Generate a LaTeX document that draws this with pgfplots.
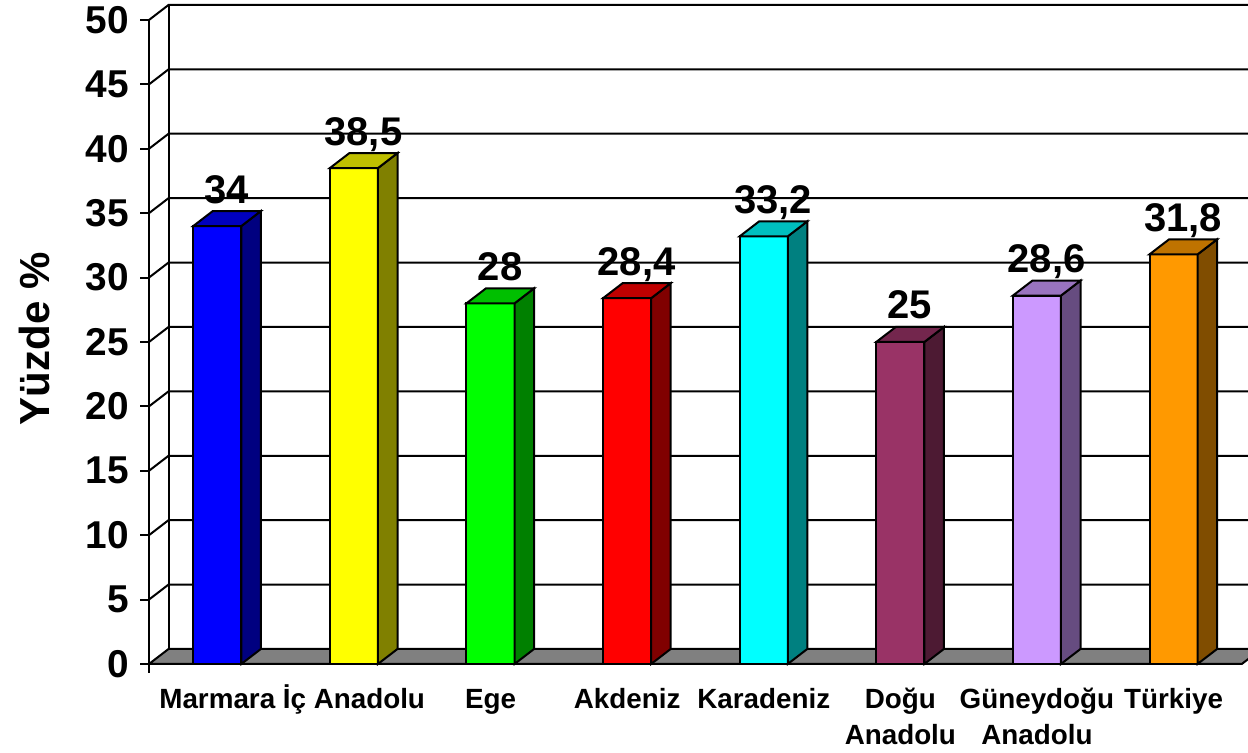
\documentclass[border=0pt]{standalone}
\usepackage{pgfplots}
\pgfplotsset{compat=1.18}
\usepackage{fontspec}
\setmainfont{Liberation Sans}
\definecolor{c1f}{HTML}{0000FF}\definecolor{c1t}{HTML}{0000BF}\definecolor{c1s}{HTML}{000080}
\definecolor{c2f}{HTML}{FFFF00}\definecolor{c2t}{HTML}{BFBF00}\definecolor{c2s}{HTML}{808000}
\definecolor{c3f}{HTML}{00FF00}\definecolor{c3t}{HTML}{00BF00}\definecolor{c3s}{HTML}{008000}
\definecolor{c4f}{HTML}{FF0000}\definecolor{c4t}{HTML}{BF0000}\definecolor{c4s}{HTML}{800000}
\definecolor{c5f}{HTML}{00FFFF}\definecolor{c5t}{HTML}{00BFBF}\definecolor{c5s}{HTML}{008080}
\definecolor{c6f}{HTML}{993366}\definecolor{c6t}{HTML}{73264D}\definecolor{c6s}{HTML}{4D1A33}
\definecolor{c7f}{HTML}{CC99FF}\definecolor{c7t}{HTML}{9973BF}\definecolor{c7s}{HTML}{664C80}
\definecolor{c8f}{HTML}{FF9900}\definecolor{c8t}{HTML}{BF7300}\definecolor{c8s}{HTML}{804D00}
\definecolor{floorgray}{HTML}{808080}
% 3D bar: #1 category position, #2 value, #3 front, #4 top, #5 side colour
\newcommand{\bartd}[5]{%
  \pgfmathsetmacro{\xa}{#1-0.176}%
  \pgfmathsetmacro{\xb}{#1+0.176}%
  \pgfmathsetmacro{\xc}{#1+0.319}%
  \pgfmathsetmacro{\xd}{#1-0.033}%
  \pgfmathsetmacro{\yt}{#2+1.165}%
  \edef\doit{%
    \noexpand\addplot[fill=#3,draw=black] coordinates {(\xa,0) (\xb,0) (\xb,#2) (\xa,#2)} -- cycle;
    \noexpand\addplot[fill=#5,draw=black] coordinates {(\xb,0) (\xc,1.165) (\xc,\yt) (\xb,#2)} -- cycle;
    \noexpand\addplot[fill=#4,draw=black] coordinates {(\xa,#2) (\xb,#2) (\xc,\yt) (\xd,\yt)} -- cycle;
  }\doit}
\begin{document}
\begin{tikzpicture}
\begin{axis}[
  x=68.3pt, y=6.44pt,
  xmin=-0.5, xmax=7.5, ymin=0, ymax=50,
  clip=false,
  axis x line*=bottom, axis y line*=left,
  axis line style={line width=1pt, black},
  ytick={0,5,...,50},
  xtick={0,...,7},
  xticklabels={{Marmara\\\mbox{}}, {İç Anadolu\\\mbox{}}, {Ege\\\mbox{}}, {Akdeniz\\\mbox{}}, {Karadeniz\\\mbox{}}, {Doğu\\Anadolu}, {Güneydoğu\\Anadolu}, {Türkiye\\\mbox{}}},
  x tick style={draw=none},
  y tick style={line width=1pt, black},
  tick align=outside,
  major tick length=4.5pt,
  /pgf/number format/assume math mode=true,
  yticklabel style={font=\fontsize{19.4}{20}\selectfont\bfseries, anchor=east, inner sep=0pt, xshift=-5.5pt},
  xticklabel style={font=\fontsize{13.9}{18}\selectfont\bfseries, align=center, anchor=base, inner sep=0pt, yshift=-36pt},
  ylabel={Yüzde \%},
  every axis y label/.style={at={(axis description cs:-0.0909,0.5047)}, rotate=90, anchor=base, font=\fontsize{21}{24}\selectfont\bfseries},
  every axis plot/.append style={line width=1pt},
]
% floor
\addplot[fill=floorgray, draw=black] coordinates {(-0.5,0) (7.5,0) (7.643,1.165) (-0.357,1.165)} -- cycle;
% left wall and back wall gridlines
\addplot[draw=black] coordinates {(-0.357,1.165) (-0.357,51.165)};
\addplot[draw=black] coordinates {(-0.5,5) (-0.357,6.165) (7.7,6.165)};
\addplot[draw=black] coordinates {(-0.5,10) (-0.357,11.165) (7.7,11.165)};
\addplot[draw=black] coordinates {(-0.5,15) (-0.357,16.165) (7.7,16.165)};
\addplot[draw=black] coordinates {(-0.5,20) (-0.357,21.165) (7.7,21.165)};
\addplot[draw=black] coordinates {(-0.5,25) (-0.357,26.165) (7.7,26.165)};
\addplot[draw=black] coordinates {(-0.5,30) (-0.357,31.165) (7.7,31.165)};
\addplot[draw=black] coordinates {(-0.5,35) (-0.357,36.165) (7.7,36.165)};
\addplot[draw=black] coordinates {(-0.5,40) (-0.357,41.165) (7.7,41.165)};
\addplot[draw=black] coordinates {(-0.5,45) (-0.357,46.165) (7.7,46.165)};
\addplot[draw=black] coordinates {(-0.5,50) (-0.357,51.165) (7.7,51.165)};
\draw[line width=1pt] (axis cs:-0.5,0) -- ++(0pt,-4.5pt);
% bars
\bartd{0}{34}{c1f}{c1t}{c1s}
\bartd{1}{38.5}{c2f}{c2t}{c2s}
\bartd{2}{28}{c3f}{c3t}{c3s}
\bartd{3}{28.4}{c4f}{c4t}{c4s}
\bartd{4}{33.2}{c5f}{c5t}{c5s}
\bartd{5}{25}{c6f}{c6t}{c6s}
\bartd{6}{28.6}{c7f}{c7t}{c7s}
\bartd{7}{31.8}{c8f}{c8t}{c8s}
% value labels
\addplot[draw=none, nodes near coords, point meta=explicit symbolic,
  every node near coord/.append style={anchor=base, inner sep=0pt, xshift=4.75pt, yshift=11.5pt, font=\fontsize{20}{22}\selectfont\bfseries}]
  coordinates {(0,34) [34] (1,38.5) [{38,5}] (2,28) [28] (3,28.4) [{28,4}] (4,33.2) [{33,2}] (5,25) [25] (6,28.6) [{28,6}] (7,31.8) [{31,8}]};
\coordinate (bbsw) at (axis cs:-1.591,-6.91);
\coordinate (bbne) at (axis cs:7.545,51.55);
\end{axis}
\pgfresetboundingbox
\path[use as bounding box] (bbsw) rectangle (bbne);
\end{tikzpicture}
\end{document}
